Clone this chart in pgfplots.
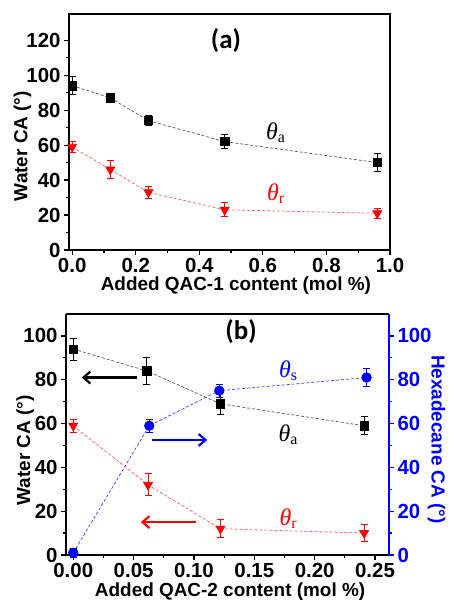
\documentclass[border=0pt]{standalone}
\usepackage{fontspec}
\setmainfont{Liberation Sans}
\newfontfamily\serif{Liberation Serif}
\newfontfamily\calib{Carlito}
\usepackage{pgfplots}
\pgfplotsset{compat=1.18}
\usetikzlibrary{arrows.meta}
\newcommand{\thlab}[1]{{\fontsize{24}{24}\selectfont\serif\itshape θ}\raisebox{-0.3em}{\fontsize{16}{16}\selectfont\serif #1}}
\newcommand{\lfont}{\bfseries\fontsize{19}{19}\selectfont}
\pgfplotsset{
  myax/.style={
    scale only axis, anchor=south west, clip=false,
    /pgf/number format/assume math mode=true,
    tick label style={font=\bfseries\fontsize{20.5}{20.5}\selectfont},
    axis line style={line width=1.4pt},
    tick style={line width=1.2pt, black},
    tick align=outside,
    major tick length=5pt, minor tick length=3pt,
    minor tick num=1,
    every axis plot/.append style={line width=0.7pt},
  },
  ebar/.style={/pgfplots/error bars/.cd, y dir=both, y explicit,
    error bar style={#1, line width=1pt, solid},
    error mark options={#1, rotate=90, mark size=3.5pt, line width=1pt, solid}},
}
\begin{document}
\begin{tikzpicture}
\path[use as bounding box] (0,0) rectangle (449bp,602bp);
% ---------- (a) ----------
\begin{axis}[myax, tick pos=left,
  at={(69bp,352bp)}, width=321bp, height=236bp,
  xmin=-0.01, xmax=1.0, ymin=0, ymax=135,
  xtick={0,0.2,...,1.0}, ytick={0,20,...,120},
  xticklabel style={/pgf/number format/.cd, fixed, fixed zerofill, precision=1},
  xlabel={Added QAC-1 content (mol \%)},
  ylabel={Water CA (°)},
  xlabel style={font=\lfont, at={(axis description cs:0.52,-0.15)}, anchor=center},
  ylabel style={font=\lfont, at={(axis description cs:-0.145,0.44)}, anchor=center},
]
\addplot[black!65, densely dashed, mark=square*, mark size=4.2pt,
  mark options={solid, fill=black, draw=black}, ebar=black]
  coordinates {
  (0,94) +- (0,5)
  (0.12,87) +- (0,1.5)
  (0.24,74) +- (0,3)
  (0.48,62) +- (0,4)
  (0.96,50) +- (0,5)
  };
\addplot[red!65, densely dashed, mark=triangle*, mark size=5.2pt,
  mark options={solid, rotate=180, fill=red, draw=red}, ebar=red]
  coordinates {
  (0,59) +- (0,3)
  (0.12,46) +- (0,5)
  (0.24,33) +- (0,3.5)
  (0.48,23) +- (0,4)
  (0.96,21) +- (0,3)
  };
\node[font=\calib\bfseries\fontsize{27}{27}\selectfont] at (axis cs:0.484,120) {(a)};
\node at (axis cs:0.64,67) {\thlab{a}};
\node[red] at (axis cs:0.64,32.5) {\thlab{r}};
\end{axis}
% ---------- (b) ----------
\begin{axis}[myax,
  at={(66bp,47bp)}, width=323bp, height=241bp,
  xmin=-0.006, xmax=0.2616, ymin=0, ymax=110,
  xtick={0,0.05,...,0.25}, ytick={0,20,...,100},
  xticklabel style={/pgf/number format/.cd, fixed, fixed zerofill, precision=2},
  axis y line*=left, axis x line=box,
  xtick pos=left, ytick pos=left,
  xlabel={Added QAC-2 content (mol \%)},
  ylabel={Water CA (°)},
  xlabel style={font=\lfont, at={(axis description cs:0.508,-0.152)}, anchor=center},
  ylabel style={font=\lfont, at={(axis description cs:-0.126,0.434)}, anchor=center},
]
\addplot[black!65, densely dashed, mark=square*, mark size=4.2pt,
  mark options={solid, fill=black, draw=black}, ebar=black]
  coordinates {
  (0,94) +- (0,5)
  (0.061,84) +- (0,6)
  (0.122,69) +- (0,5)
  (0.241,59) +- (0,4)
  };
\addplot[red!65, densely dashed, mark=triangle*, mark size=5.2pt,
  mark options={solid, rotate=180, fill=red, draw=red}, ebar=red]
  coordinates {
  (0,59) +- (0,3)
  (0.062,32) +- (0,5)
  (0.122,12) +- (0,4)
  (0.241,10) +- (0,4)
  };
\draw[black, line width=2.2pt, -{Straight Barb[length=7pt,width=12pt]}] (axis cs:0.053,81) -- (axis cs:0.007,81);
\draw[red, line width=2.2pt, -{Straight Barb[length=7pt,width=12pt]}] (axis cs:0.102,15) -- (axis cs:0.056,15);
\node[font=\calib\bfseries\fontsize{27}{27}\selectfont] at (axis cs:0.139,102) {(b)};
\node at (axis cs:0.178,55) {\thlab{a}};
\node[red] at (axis cs:0.178,16.5) {\thlab{r}};
\end{axis}
\begin{axis}[myax,
  at={(66bp,47bp)}, width=323bp, height=241bp,
  xmin=-0.006, xmax=0.2616, ymin=0, ymax=110,
  ytick={0,20,...,100},
  axis y line*=right, axis x line=none,
  ytick pos=right, yticklabel pos=right,
  y axis line style={blue, line width=1.4pt},
  ytick style={blue, line width=1.2pt},
  yticklabel style={blue},
  ylabel={Hexadecane CA (°)},
  ylabel style={font=\lfont, blue, rotate=180, at={(axis description cs:1.147,0.48)}, anchor=center},
]
\addplot[blue!75, densely dashed, mark=*, mark size=4.8pt,
  mark options={solid, fill=blue, draw=blue}, ebar=blue]
  coordinates {
  (0,1) +- (0,2)
  (0.063,59) +- (0,3)
  (0.121,75) +- (0,3)
  (0.243,81) +- (0,4)
  };
\draw[blue, line width=2.2pt, -{Straight Barb[length=7pt,width=12pt]}] (axis cs:0.065,52.5) -- (axis cs:0.111,52.5);
\node[blue] at (axis cs:0.178,84) {\thlab{s}};
\end{axis}
\end{tikzpicture}
\end{document}
